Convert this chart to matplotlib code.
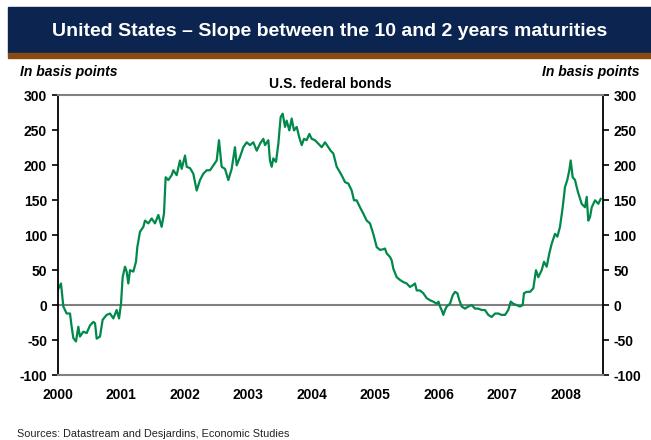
import matplotlib
matplotlib.use("Agg")
import matplotlib.pyplot as plt
from matplotlib.patches import Rectangle
import numpy as np

plt.rcParams['font.family'] = ['Liberation Sans', 'DejaVu Sans']

# ---- data (decimal year, basis points) ----
years = [
    2000.000, 2000.055, 2000.092, 2000.144, 2000.197, 2000.223, 2000.249, 2000.291,
    2000.328, 2000.354, 2000.407, 2000.459, 2000.512, 2000.564, 2000.591, 2000.617,
    2000.669, 2000.711, 2000.774, 2000.827, 2000.879, 2000.932, 2000.969, 2001.000,
    2001.026, 2001.063, 2001.089, 2001.115, 2001.142, 2001.194, 2001.236, 2001.257,
    2001.299, 2001.352, 2001.378, 2001.430, 2001.483, 2001.535, 2001.588, 2001.640,
    2001.677, 2001.703, 2001.745, 2001.798, 2001.824, 2001.877, 2001.929, 2001.956,
    2002.008, 2002.035, 2002.087, 2002.139, 2002.192, 2002.244, 2002.296, 2002.349,
    2002.402, 2002.454, 2002.507, 2002.543, 2002.585, 2002.638, 2002.690, 2002.743,
    2002.795, 2002.822, 2002.874, 2002.926, 2002.979, 2003.031, 2003.084, 2003.137,
    2003.189, 2003.241, 2003.268, 2003.320, 2003.346, 2003.373, 2003.399, 2003.441,
    2003.478, 2003.514, 2003.546, 2003.583, 2003.609, 2003.651, 2003.688, 2003.724,
    2003.767, 2003.808, 2003.846, 2003.882, 2003.924, 2003.966, 2004.003, 2004.055,
    2004.108, 2004.161, 2004.213, 2004.265, 2004.302, 2004.344, 2004.397, 2004.449,
    2004.491, 2004.528, 2004.580, 2004.633, 2004.669, 2004.711, 2004.764, 2004.816,
    2004.869, 2004.921, 2004.973, 2005.027, 2005.079, 2005.131, 2005.157, 2005.184,
    2005.236, 2005.263, 2005.289, 2005.342, 2005.394, 2005.446, 2005.499, 2005.551,
    2005.603, 2005.630, 2005.657, 2005.709, 2005.761, 2005.814, 2005.866, 2005.918,
    2005.972, 2006.000, 2006.024, 2006.050, 2006.076, 2006.102, 2006.129, 2006.181,
    2006.224, 2006.260, 2006.297, 2006.328, 2006.365, 2006.417, 2006.469, 2006.523,
    2006.575, 2006.627, 2006.680, 2006.732, 2006.784, 2006.838, 2006.890, 2006.942,
    2006.995, 2007.047, 2007.099, 2007.137, 2007.178, 2007.231, 2007.283, 2007.326,
    2007.346, 2007.389, 2007.441, 2007.493, 2007.535, 2007.572, 2007.625, 2007.661,
    2007.704, 2007.745, 2007.783, 2007.835, 2007.872, 2007.913, 2007.956, 2007.992,
    2008.028, 2008.060, 2008.082, 2008.113, 2008.150, 2008.176, 2008.202, 2008.255,
    2008.307, 2008.334, 2008.359, 2008.386, 2008.413, 2008.465, 2008.517, 2008.554,
]
slope_bp = [
    21, 31, -2, -12, -12, -31, -47, -52,
    -31, -45, -38, -40, -29, -24, -26, -48,
    -45, -21, -14, -12, -19, -7, -19, 2,
    40, 55, 48, 31, 50, 48, 62, 83,
    105, 112, 121, 117, 124, 117, 129, 112,
    131, 183, 179, 186, 193, 186, 207, 195,
    214, 198, 196, 188, 164, 179, 188, 193,
    193, 200, 207, 236, 198, 195, 179, 195,
    226, 200, 212, 226, 233, 229, 233, 221,
    231, 238, 229, 236, 207, 198, 210, 205,
    231, 269, 274, 255, 264, 250, 267, 250,
    255, 240, 229, 238, 236, 245, 238, 236,
    231, 226, 233, 226, 221, 217, 198, 190,
    183, 176, 174, 164, 150, 150, 140, 131,
    121, 117, 102, 83, 79, 80, 81, 74,
    69, 64, 52, 40, 36, 33, 31, 26,
    29, 31, 21, 21, 17, 10, 7, 5,
    2, 5, -2, -7, -14, -7, -2, 2,
    14, 19, 17, 7, -2, -5, -2, 0,
    -5, -5, -7, -7, -14, -17, -12, -12,
    -14, -14, -7, 5, 2, 0, -2, 0,
    17, 19, 19, 24, 50, 40, 50, 62,
    55, 74, 88, 102, 98, 112, 140, 169,
    179, 193, 207, 183, 179, 169, 160, 145,
    140, 155, 121, 126, 140, 150, 145, 152,
]
x_ticks = [2000, 2001, 2002, 2003, 2004, 2005, 2006, 2007, 2008]
year_labels = ['2000', '2001', '2002', '2003', '2004', '2005', '2006', '2007', '2008']
y_ticks = [-100, -50, 0, 50, 100, 150, 200, 250, 300]

title = "United States \u2013 Slope between the 10 and 2 years maturities"
subtitle = "U.S. federal bonds"
unit = "In basis points"
source = "Sources: Datastream and Desjardins, Economic Studies"

# ---- figure ----
W, H = 651, 440
fig = plt.figure(figsize=(W / 100, H / 100), dpi=100)

navy = '#0b2550'
brown = '#8b4a13'
fig.patches.append(Rectangle((8 / W, 1 - 53 / H), 1 - 8 / W, 46 / H,
                             transform=fig.transFigure, color=navy, zorder=0))
fig.patches.append(Rectangle((8 / W, 1 - 58 / H), 1 - 8 / W, 5 / H,
                             transform=fig.transFigure, color=brown, zorder=0))
fig.text(330 / W, 1 - 31 / H, title, color='white', fontsize=14, fontweight='bold',
         ha='center', va='center')

ax = fig.add_axes([57.5 / W, 1 - 375 / H, (603 - 57.5) / W, (375 - 95.5) / H])
green = '#00894a'
ax.plot(years, slope_bp, color=green, lw=1.6, solid_joinstyle='round')
ax.axhline(0, color='#808080', lw=1.5, zorder=1)

ax.set_xticks(x_ticks)
ax.set_xticklabels(year_labels, fontsize=10, fontweight='bold')
ax.tick_params(axis='x', length=0, pad=9)
x0 = 2000.0
x1 = x0 + (603 - 57.5) / 63.5
ax.set_xlim(x0, x1)
ax.set_ylim(-100, 300)

ax.set_yticks(y_ticks)
ax.set_yticklabels([str(v) for v in y_ticks], fontsize=10, fontweight='bold')
ax.tick_params(axis='y', direction='out', length=4, width=1.2, left=True, right=True,
               labelleft=True, labelright=True, pad=3.5, color='black')

for s in ['top', 'bottom']:
    ax.spines[s].set_color('#808080')
    ax.spines[s].set_linewidth(1.5)
for s in ['left', 'right']:
    ax.spines[s].set_color('black')
    ax.spines[s].set_linewidth(1.3)

fig.text(20 / W, 1 - 72 / H, unit, fontsize=10, fontweight='bold', style='italic',
         ha='left', va='center')
fig.text(640 / W, 1 - 72 / H, unit, fontsize=10, fontweight='bold', style='italic',
         ha='right', va='center')
fig.text(330 / W, 1 - 84 / H, subtitle, fontsize=10, fontweight='bold',
         ha='center', va='center')
fig.text(17 / W, 1 - 434 / H, source, fontsize=7.8, ha='left', va='center',
         color='#222222')

fig.savefig('out.png', dpi=100)
